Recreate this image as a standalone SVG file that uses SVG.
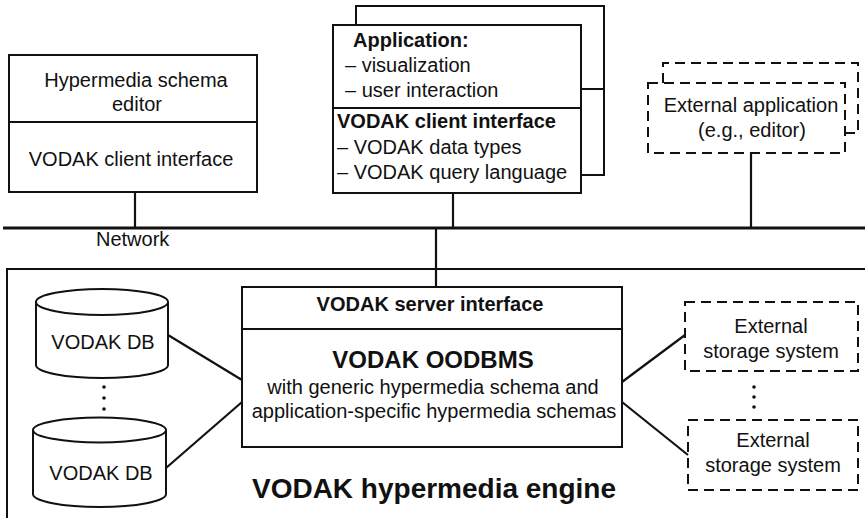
<svg xmlns="http://www.w3.org/2000/svg" width="865" height="518" viewBox="0 0 865 518">
<style>
text{font-family:"Liberation Sans",Arial,Helvetica,sans-serif;font-size:20px;fill:#111}
.b{font-weight:bold}
.m{text-anchor:middle}
.box{fill:#fff;stroke:#111;stroke-width:2}
.ln{fill:none;stroke:#111;stroke-width:2}
.dash{fill:none;stroke:#111;stroke-width:2;stroke-dasharray:10 6}
.conn{fill:none;stroke:#111;stroke-width:2.2}
.net{fill:none;stroke:#111;stroke-width:3}
</style>
<rect width="865" height="518" fill="#fff"/>

<g id="connectors">
  <line class="net" x1="3" y1="228" x2="865" y2="228"/>
  <line class="conn" x1="135" y1="192" x2="135" y2="228"/>
  <line class="conn" x1="453" y1="193" x2="453" y2="228"/>
  <line class="conn" x1="751" y1="153" x2="751" y2="228"/>
  <line class="conn" x1="436" y1="228" x2="436" y2="287"/>
  <line class="conn" x1="168" y1="335" x2="242" y2="380"/>
  <line class="conn" x1="166" y1="468" x2="242" y2="402"/>
  <line class="conn" x1="622" y1="382" x2="685" y2="335"/>
  <line class="conn" x1="622" y1="402" x2="688" y2="455"/>
</g>
<text x="96" y="246">Network</text>

<g id="engine">
  <polyline class="ln" points="7,520 7,269 866,269"/>
  <text class="b m" x="434" y="498" style="font-size:28px">VODAK hypermedia engine</text>
</g>

<g id="schema-editor">
  <rect class="box" x="9" y="55" width="248" height="137"/>
  <line class="ln" x1="9" y1="122" x2="257" y2="122"/>
  <text class="m" x="136" y="87">Hypermedia schema</text>
  <text class="m" x="137" y="111">editor</text>
  <text class="m" x="131" y="166">VODAK client interface</text>
</g>

<g id="application">
  <polyline class="ln" points="356,25 356,6 604,6 604,175 581,175"/>
  <line class="ln" x1="581" y1="89" x2="604" y2="89"/>
  <rect class="box" x="333" y="25" width="248" height="168"/>
  <line class="ln" x1="333" y1="108" x2="581" y2="108"/>
  <text class="b" x="353" y="47">Application:</text>
  <text x="345" y="72">– visualization</text>
  <text x="345" y="97">– user interaction</text>
  <text class="b" x="337" y="128">VODAK client interface</text>
  <text x="337" y="154">– VODAK data types</text>
  <text x="337" y="179">– VODAK query language</text>
</g>

<g id="external-application">
  <polyline class="dash" points="663,83 663,63 858,63 858,133 845,133"/>
  <rect class="dash" x="648" y="83" width="197" height="70" style="fill:#fff"/>
  <text class="m" x="751" y="112">External application</text>
  <text class="m" x="752" y="137">(e.g., editor)</text>
</g>

<g id="server">
  <rect class="box" x="242" y="287" width="380" height="160"/>
  <line class="ln" x1="242" y1="329" x2="622" y2="329"/>
  <text class="b m" x="430" y="311">VODAK server interface</text>
  <text class="b m" x="433" y="368" style="font-size:24px">VODAK OODBMS</text>
  <text class="m" x="433" y="394">with generic hypermedia schema and</text>
  <text class="m" x="434" y="418">application-specific hypermedia schemas</text>
</g>

<g id="db1">
  <path class="box" d="M36,302 A66,13 0 0 1 168,302 L168,365 A66,13 0 0 1 36,365 Z"/>
  <path class="ln" d="M36,302 A66,13 0 0 0 168,302"/>
  <text class="m" x="103" y="349">VODAK DB</text>
</g>
<g id="db-dots">
  <circle cx="104" cy="387" r="1.8" fill="#111"/>
  <circle cx="104" cy="398" r="1.8" fill="#111"/>
  <circle cx="104" cy="409" r="1.8" fill="#111"/>
</g>
<g id="db2">
  <path class="box" d="M33,430 A66.5,12.5 0 0 1 166,430 L166,494 A66.5,13 0 0 1 33,494 Z"/>
  <path class="ln" d="M33,430 A66.5,12.5 0 0 0 166,430"/>
  <text class="m" x="101" y="480">VODAK DB</text>
</g>

<g id="storage1">
  <rect class="dash" x="685" y="302" width="173" height="69"/>
  <text class="m" x="771" y="333">External</text>
  <text class="m" x="771" y="358">storage system</text>
</g>
<g id="storage-dots">
  <circle cx="754" cy="387" r="1.8" fill="#111"/>
  <circle cx="754" cy="397" r="1.8" fill="#111"/>
  <circle cx="754" cy="407" r="1.8" fill="#111"/>
</g>
<g id="storage2">
  <rect class="dash" x="688" y="420" width="170" height="70"/>
  <text class="m" x="773" y="447">External</text>
  <text class="m" x="773" y="472">storage system</text>
</g>
</svg>
